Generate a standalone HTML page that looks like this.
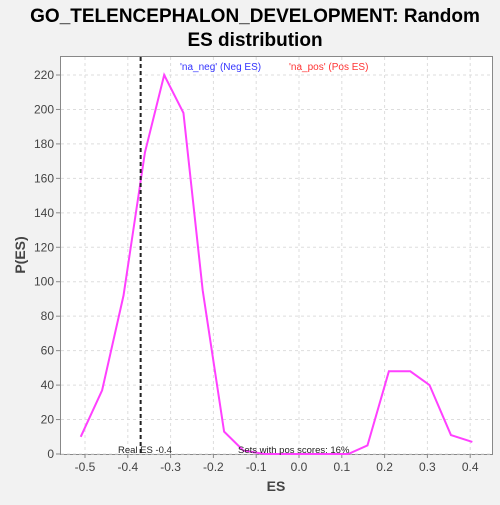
<!DOCTYPE html>
<html><head><meta charset="utf-8"><style>
body{margin:0;background:#f2f2f2;width:500px;height:500px;overflow:hidden;font-family:"Liberation Sans",sans-serif}
</style></head><body>
<svg width="500" height="500" xmlns="http://www.w3.org/2000/svg">
<text x="255" y="22" text-anchor="middle" font-size="19" font-weight="bold" fill="#000">GO_TELENCEPHALON_DEVELOPMENT: Random</text>
<text x="255" y="46" text-anchor="middle" font-size="19" font-weight="bold" fill="#000">ES distribution</text>
<rect x="60.5" y="56.5" width="432" height="398" fill="#fff" stroke="#888"/>
<g id="grid"></g><g id="axes"></g>
<polyline id="line" fill="none" stroke="#ff40ff" stroke-width="2"/>
<line id="real" stroke="#222" stroke-width="2" stroke-dasharray="4,3"/>
<text x="180" y="70" font-size="10" fill="#3333ff">'na_neg' (Neg ES)</text>
<text x="289" y="70" font-size="10" fill="#ff3333">'na_pos' (Pos ES)</text>
<text x="118" y="453" font-size="9.5" fill="#222">Real ES -0.4</text>
<text x="238" y="453" font-size="9.5" fill="#222">Sets with pos scores: 16%</text>
<text x="276" y="491" text-anchor="middle" font-size="14" font-weight="bold" fill="#444">ES</text>
<text x="25" y="255" text-anchor="middle" font-size="14" font-weight="bold" fill="#444" transform="rotate(-90 25 255)">P(ES)</text>
</svg>
<script>
const xs=[-0.51,-0.46,-0.41,-0.36,-0.315,-0.27,-0.225,-0.175,-0.13,-0.08,-0.03,0.02,0.07,0.115,0.16,0.21,0.26,0.305,0.355,0.405];
const ys=[10,37,92,175,220,198,95,13,2,0,0,0,0,0,5,48,48,40,11,7];
const xTicks=[-0.5,-0.4,-0.3,-0.2,-0.1,0.0,0.1,0.2,0.3,0.4];
const yTicks=[0,20,40,60,80,100,120,140,160,180,200,220];
const realES=-0.37;
const X=v=>299+v*428, Y=v=>454-v*(379/220);
const ns="http://www.w3.org/2000/svg";
const g=document.getElementById('grid'),a=document.getElementById('axes');
function mk(t,at,p){const e=document.createElementNS(ns,t);for(const k in at)e.setAttribute(k,at[k]);p.appendChild(e);return e;}
xTicks.forEach(t=>{const x=X(t);
const l=mk('line',{x1:x,x2:x,y1:57,y2:454,stroke:'#ddd','stroke-dasharray':'3,3'},g);

mk('line',{x1:x,x2:x,y1:454,y2:458,stroke:'#888'},a);
const tx=mk('text',{x:x,y:471,'text-anchor':'middle','font-size':12,fill:'#444'},a);tx.textContent=t.toFixed(1);
});
yTicks.forEach(t=>{const y=Y(t);
const l=mk('line',{x1:61,x2:492,y1:y,y2:y,stroke:'#ddd','stroke-dasharray':'3,3'},g);

mk('line',{x1:56,x2:60,y1:y,y2:y,stroke:'#888'},a);
const tx=mk('text',{x:54,y:y+4,'text-anchor':'end','font-size':12,fill:'#444'},a);tx.textContent=t;
});
document.getElementById('line').setAttribute('points',xs.map((x,i)=>X(x)+','+Y(ys[i])).join(' '));
const r=document.getElementById('real');r.setAttribute('x1',X(realES));r.setAttribute('x2',X(realES));r.setAttribute('y1',57);r.setAttribute('y2',454);
</script>
</body></html>
